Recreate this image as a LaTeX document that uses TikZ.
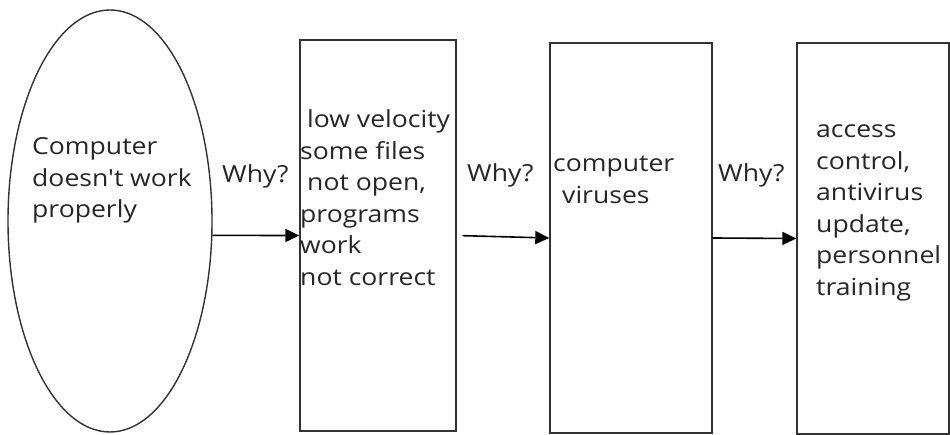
\documentclass[tikz,border=0pt]{standalone}
\usepackage{fontspec}
\setmainfont{Open Sans}[Ligatures=TeXOff, FakeStretch=1.13]
\usetikzlibrary{shapes.geometric,arrows.meta}
\tikzset{
  shape line/.style={draw=black!80, line width=1.4pt},
  boxnode/.style={shape line, rectangle, inner sep=0pt},
  txt/.style={anchor=base west, inner sep=0pt, align=left, font=\fontsize{23.5}{31.5}\selectfont, text=black!85},
  conn/.style={line width=1.6pt, -{Triangle[length=14pt,width=13pt]}}
}
\begin{document}
\begin{tikzpicture}[x=1pt,y=-1pt]
\useasboundingbox (0,0) rectangle (950,435);
\node[shape line, ellipse, minimum width=204pt, minimum height=422pt, inner sep=0pt] (ell) at (110,221) {};
\node[boxnode, minimum width=156pt, minimum height=391pt] (b1) at (378,235.5) {};
\node[boxnode, minimum width=162pt, minimum height=390pt] (b2) at (631,238) {};
\node[boxnode, minimum width=152pt, minimum height=391pt] (b3) at (873,238.5) {};

\node[txt] (t0) at (32,218) {Computer\\doesn't work\\properly};
\node[txt] (t1) at (300,285.5) {\hspace{7pt}low velocity\\some files\\\hspace{7pt}not open,\\programs\\work\\not correct};
\node[txt] (t2) at (553,203.5) {computer\\\hspace{9pt}viruses};
\node[txt] (t3) at (816,295.5) {access\\control,\\antivirus\\update,\\personnel\\training};

\node[txt] (w1) at (222,183) {Why?};
\node[txt] (w2) at (467,182) {Why?};
\node[txt] (w3) at (718,182) {Why?};

\draw[conn] (ell.-8.4) -- (b1.west);
\draw[conn, shorten <=6pt] (b1.east) -- (b2.west);
\draw[conn] (b2.east) -- (b3.west);
\end{tikzpicture}
\end{document}
